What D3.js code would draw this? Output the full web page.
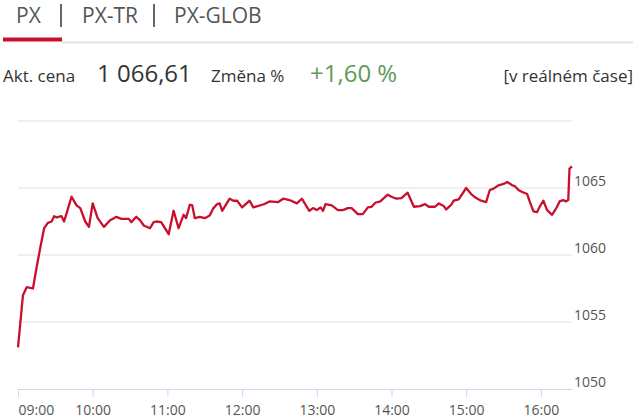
<!DOCTYPE html>
<html>
<head>
<meta charset="utf-8">
<script src="https://cdn.jsdelivr.net/npm/d3@7"></script>
<style>
  body { margin: 0; background: #fff; font-family: 'Open Sans', sans-serif; }
  svg { display: block; }
</style>
</head>
<body>
<svg id="chart"></svg>
<script>
        // tabs and header texts
        const tabs = ['PX', 'PX-TR', 'PX-GLOB']
        const price = '1 066,61'
        const change = '+1,60 %'

        // intraday PX index
        const times = ['09:00','09:04','09:07','09:12','09:15','09:18','09:21','09:24','09:27','09:29',
            '09:31','09:35','09:37','09:39','09:43','09:47','09:50','09:54','09:57','10:00',
            '10:04','10:09','10:14','10:17','10:19','10:23','10:29','10:31','10:35','10:38',
            '10:41','10:46','10:49','10:51','10:55','10:58','11:01','11:05','11:09','11:13',
            '11:15','11:18','11:20','11:22','11:26','11:30','11:34','11:37','11:40','11:42',
            '11:44','11:50','11:53','11:56','12:00','12:06','12:09','12:16','12:18','12:22',
            '12:29','12:33','12:38','12:44','12:48','12:54','12:57','13:00','13:03','13:05',
            '13:07','13:12','13:17','13:21','13:25','13:28','13:33','13:37','13:41','13:44',
            '13:47','13:51','13:57','14:00','14:04','14:08','14:13','14:18','14:23','14:27',
            '14:30','14:35','14:38','14:42','14:44','14:48','14:50','14:54','15:00','15:04',
            '15:08','15:12','15:16','15:19','15:22','15:26','15:30','15:33','15:37','15:39',
            '15:42','15:45','15:49','15:51','15:54','15:57','15:59','16:02','16:05','16:09',
            '16:13','16:15','16:18','16:20','16:22','16:23','16:25']
        const values = [1053.1,1057.0,1057.6,1057.5,1059.1,1060.6,1062.0,1062.4,1062.5,1062.9,
            1062.8,1062.9,1062.5,1063.1,1064.35,1063.7,1063.5,1062.5,1062.1,1063.85,
            1062.75,1062.1,1062.6,1062.75,1062.85,1062.7,1062.7,1062.45,1062.85,1062.6,
            1062.2,1062.0,1062.45,1062.5,1062.45,1062.0,1061.55,1063.3,1062.0,1063.0,
            1062.75,1063.75,1063.7,1062.75,1062.85,1062.75,1062.95,1063.5,1063.8,1063.85,
            1063.3,1064.2,1064.05,1064.05,1063.55,1064.05,1063.55,1063.75,1063.8,1064.0,
            1063.95,1064.2,1064.1,1063.85,1064.2,1063.3,1063.5,1063.35,1063.55,1063.3,
            1063.8,1063.7,1063.35,1063.35,1063.5,1063.5,1063.05,1063.05,1063.55,1063.6,
            1063.9,1064.0,1064.5,1064.35,1064.2,1064.25,1064.65,1063.6,1063.65,1063.8,
            1063.6,1063.6,1063.85,1063.65,1063.4,1063.75,1064.05,1064.15,1065.0,1064.55,
            1064.25,1064.05,1063.95,1064.85,1064.95,1065.2,1065.3,1065.45,1065.2,1065.15,
            1064.85,1064.7,1064.55,1064.0,1063.25,1063.2,1063.6,1064.05,1063.35,1063.0,
            1063.6,1064.0,1064.1,1064.0,1064.1,1066.45,1066.61]

        const yTicks = [1050, 1055, 1060, 1065, 1070]
        const xTicks = ['09:00','10:00','11:00','12:00','13:00','14:00','15:00','16:00']

        const red = '#c8102e'
        const grey = '#555'

        let w = 640
        let h = 418

        const parse = d3.timeParse('%H:%M')
        const dataset = times.map((t, i) => ({ time: parse(t), value: values[i] }))

        let svg = d3.select('#chart')
            .attr('width', w)
            .attr('height', h)

        // --- tabs ---
        let tabX = [16, 82, 174]
        svg.append('g').selectAll('text')
            .data(tabs)
            .enter().append('text')
                .attr('x', (d, i) => tabX[i])
                .attr('y', 23)
                .attr('font-size', 21)
                .attr('fill', (d, i) => i == 0 ? '#4d5a5e' : '#555')
                .text(d => d)

        svg.selectAll('.sep')
            .data([61, 154])
            .enter().append('line')
                .attr('class', 'sep')
                .attr('x1', d => d).attr('x2', d => d)
                .attr('y1', 4).attr('y2', 27)
                .attr('stroke', '#333')
                .attr('stroke-width', 1.5)

        svg.append('rect')
            .attr('x', 62).attr('y', 41.5)
            .attr('width', 571).attr('height', 2)
            .attr('fill', '#e4e4e4')
        svg.append('rect')
            .attr('x', 3).attr('y', 37.5)
            .attr('width', 59).attr('height', 4)
            .attr('fill', red)

        // --- price row ---
        let row = svg.append('g').attr('transform', 'translate(0, 82)')
        row.append('text').attr('x', 3).attr('font-size', 17).attr('fill', '#333').text('Akt. cena')
        row.append('text').attr('x', 97).attr('font-size', 24).attr('fill', '#333').text(price)
        row.append('text').attr('x', 211).attr('font-size', 17).attr('fill', '#333').text('Změna %')
        row.append('text').attr('x', 310).attr('font-size', 24).attr('fill', '#5f9a55').text(change)
        row.append('text').attr('x', 633).attr('text-anchor', 'end').attr('font-size', 17).attr('fill', '#333').text('[v reálném čase]')

        // --- chart ---
        let x = d3.scaleTime()
            .domain([parse('09:00'), parse('16:25')])
            .range([18, 572])
        let y = d3.scaleLinear()
            .domain([1050, 1070])
            .range([389, 121])

        let grid = svg.append('g')
        grid.selectAll('line')
            .data(yTicks.slice(1))
            .enter().append('line')
                .attr('x1', 18).attr('x2', 572)
                .attr('y1', d => y(d)).attr('y2', d => y(d))
                .attr('stroke', '#e0e0e0')
                .attr('stroke-width', 1.2)

        grid.selectAll('text')
            .data(yTicks.slice(0, -1))
            .enter().append('text')
                .attr('x', 574)
                .attr('y', d => y(d) - 2)
                .attr('font-size', 14)
                .attr('fill', grey)
                .text(d => d)

        let xAxis = svg.append('g')
            .attr('transform', `translate(0, ${y(1050)})`)
            .call(d3.axisBottom(x)
                .tickValues(xTicks.map(parse))
                .tickFormat(d3.timeFormat('%H:%M'))
                .tickSize(8)
                .tickSizeOuter(0)
                .tickPadding(8))
        xAxis.select('.domain').attr('stroke', '#ccd6eb')
        xAxis.selectAll('.tick line').attr('stroke', '#ccd6eb')
        xAxis.selectAll('.tick text')
            .attr('font-family', 'Open Sans')
            .attr('font-size', 14)
            .attr('fill', grey)
            .attr('text-anchor', (d, i) => i == 0 ? 'start' : 'middle')

        let line = d3.line()
            .x(d => x(d.time))
            .y(d => y(d.value))

        svg.append('path')
            .datum(dataset)
            .attr('d', line)
            .attr('fill', 'none')
            .attr('stroke', red)
            .attr('stroke-width', 2.3)
            .attr('stroke-linejoin', 'round')
</script>
</body>
</html>
